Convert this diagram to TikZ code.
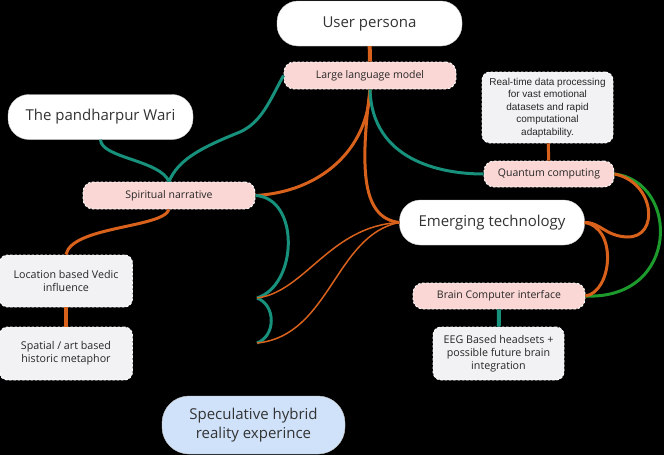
\documentclass[tikz,border=0pt]{standalone}
\usepackage{fontspec}
\setmainfont{Open Sans}
\newfontfamily\arialfont{Liberation Sans}
\usetikzlibrary{positioning}

\definecolor{tealLine}{HTML}{17907C}
\definecolor{orangeLine}{HTML}{D8611C}
\definecolor{greenLine}{HTML}{1C9A2C}
\definecolor{pinkFill}{HTML}{FAD7D5}
\definecolor{grayFill}{HTML}{F2F2F4}
\definecolor{blueFill}{HTML}{CFE2FA}
\definecolor{inkText}{HTML}{333333}

\begin{document}
\begin{tikzpicture}[x=1pt, y=-1pt,
    pillNode/.style={draw=black!20, fill=white, rounded corners=21pt, minimum width=185pt, minimum height=45pt, inner sep=0pt, text=inkText, font=\fontsize{15}{18}\selectfont},
    tagNode/.style={draw=white, line width=0.9pt, dash pattern=on 2.5pt off 1.8pt, fill=pinkFill, rounded corners=10pt, minimum width=172pt, minimum height=27pt, inner sep=0pt, text=black!85, font=\fontsize{10.5}{12}\selectfont},
    noteNode/.style={draw=white, line width=0.9pt, dash pattern=on 2.5pt off 1.8pt, fill=grayFill, rounded corners=8pt, minimum width=131pt, minimum height=53pt, inner sep=0pt, align=center, text=black!85, font=\fontsize{10.7}{13}\selectfont},
    tealCurve/.style={draw=tealLine, line width=3pt},
    orangeCurve/.style={draw=orangeLine, line width=3pt},
    thinCurve/.style={draw=orangeLine, line width=1.5pt},
    greenCurve/.style={draw=greenLine, line width=3pt}
  ]

  \fill[black] (0,0) rectangle (664,455);
  \useasboundingbox (0,0) rectangle (664,455);

  % Main nodes
  \node[pillNode] (persona) at (369.5,23.5) {User persona};
  \node[pillNode] (wari) at (100.5,117) {The pandharpur Wari};
  \node[pillNode] (emerging) at (492,222.5) {Emerging technology};
  \node[pillNode, fill=blueFill, minimum width=183pt, minimum height=58pt, rounded corners=27pt, align=center, font=\fontsize{15}{19}\selectfont] (spec) at (253.5,425) {Speculative hybrid\\reality experince};

  % Tags
  \node[tagNode] (llm) at (370,75.5) {Large language model};
  \node[tagNode] (spirit) at (169,195.5) {Spiritual narrative};
  \node[tagNode, minimum width=130pt, minimum height=26pt] (quantum) at (549,174) {Quantum computing};
  \node[tagNode, minimum height=26pt] (bci) at (499,296) {Brain Computer interface};

  % Notes
  \node[noteNode, minimum height=71pt, font=\arialfont\fontsize{10}{12.5}\selectfont] (realtime) at (547.5,107.5) {Real-time data processing\\for vast emotional\\datasets and rapid\\computational\\adaptability.};
  \node[noteNode] (eeg) at (498.5,353.5) {EEG Based headsets +\\possible future brain\\integration};
  \node[noteNode, minimum width=133pt, minimum height=52pt] (vedic) at (66,281) {Location based Vedic\\influence};
  \node[noteNode, minimum width=133pt] (spatial) at (66,353.5) {Spatial / art based\\historic metaphor};

  % Loose ends
  \coordinate (endA) at (257,298);
  \coordinate (endB) at (257,343);

  % Straight links
  \draw[orangeCurve, line width=4pt] (persona) -- (llm);
  \draw[orangeCurve] (realtime) -- (quantum);
  \draw[tealCurve, line width=4pt] (bci) -- (eeg);
  \draw[orangeCurve, line width=4pt] (vedic) -- (spatial);

  % Curves
  \draw[tealCurve] (wari.south) .. controls (101,158) and (160,160) .. (spirit.north);
  \draw[tealCurve] (llm.west) .. controls (270,100) and (262,122) .. (240,132) .. controls (200,148) and (178,160) .. (spirit.north);
  \draw[orangeCurve] (spirit.south) .. controls (163,228) and (72,226) .. (vedic.north);
  \draw[orangeCurve] (spirit.east) .. controls (320,192) and (368,150) .. (llm.south);
  \draw[tealCurve] (spirit.east) .. controls (300,198) and (298,285) .. (endA);
  \draw[tealCurve] (endA) .. controls (276,305) and (276,336) .. (endB);
  \draw[thinCurve] (endA) .. controls (305,292) and (330,226) .. (emerging.west);
  \draw[thinCurve] (endB) .. controls (330,336) and (335,235) .. (emerging.west);
  \draw[orangeCurve] (llm.south) .. controls (360,170) and (362,218) .. (emerging.west);
  \draw[tealCurve] (llm.south) .. controls (372,160) and (440,174) .. (quantum.west);
  \draw[greenCurve] (quantum.east) .. controls (680,182) and (680,300) .. (bci.east);
  \draw[orangeCurve] (quantum.east) .. controls (655,182) and (660,238) .. (627,237) .. controls (605,236) and (600,222) .. (emerging.east);
  \draw[orangeCurve] (emerging.east) .. controls (618,228) and (612,292) .. (bci.east);

\end{tikzpicture}
\end{document}
